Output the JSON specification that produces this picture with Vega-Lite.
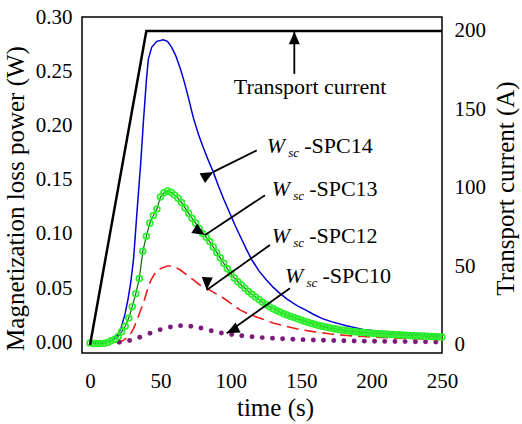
{
  "$schema": "https://vega.github.io/schema/vega-lite/v6.json",
  "width": 360,
  "height": 336,
  "autosize": {"type": "none"},
  "padding": {"left": 82, "top": 17, "right": 80, "bottom": 71},
  "config": {
    "font": "Liberation Serif",
    "view": {"stroke": "black", "strokeWidth": 1.5},
    "axis": {
      "labelFont": "Liberation Serif",
      "titleFont": "Liberation Serif",
      "labelColor": "black",
      "titleColor": "black",
      "labelFontSize": 21,
      "titleFontSize": 25,
      "titleFontWeight": "normal",
      "domain": false,
      "grid": false,
      "labelOverlap": false,
      "labelFlush": false,
      "labelBound": false
    }
  },
  "datasets": {
    "blue": [
      {"t": 0, "w": 0.0005}, {"t": 5, "w": 0.0003}, {"t": 10, "w": 0.0005}, {"t": 13, "w": 0.001},
      {"t": 16, "w": 0.0025}, {"t": 19, "w": 0.006}, {"t": 22, "w": 0.013}, {"t": 25, "w": 0.027},
      {"t": 27, "w": 0.04}, {"t": 29, "w": 0.056}, {"t": 31, "w": 0.078}, {"t": 33, "w": 0.114},
      {"t": 34.5, "w": 0.14}, {"t": 36, "w": 0.165}, {"t": 38, "w": 0.205}, {"t": 40, "w": 0.241},
      {"t": 41.4, "w": 0.261}, {"t": 43.8, "w": 0.272}, {"t": 47.4, "w": 0.2776}, {"t": 52, "w": 0.279},
      {"t": 55, "w": 0.2775}, {"t": 58, "w": 0.272}, {"t": 61, "w": 0.264}, {"t": 64, "w": 0.253},
      {"t": 67, "w": 0.24}, {"t": 70, "w": 0.225}, {"t": 73.4, "w": 0.207}, {"t": 77, "w": 0.192},
      {"t": 80, "w": 0.181}, {"t": 84, "w": 0.168}, {"t": 87.6, "w": 0.157}, {"t": 91, "w": 0.145},
      {"t": 95, "w": 0.132}, {"t": 99, "w": 0.12}, {"t": 103, "w": 0.108}, {"t": 107, "w": 0.097},
      {"t": 111, "w": 0.086}, {"t": 115, "w": 0.076}, {"t": 120, "w": 0.066}, {"t": 125, "w": 0.058},
      {"t": 130, "w": 0.051}, {"t": 135, "w": 0.045}, {"t": 140, "w": 0.04}, {"t": 147, "w": 0.034},
      {"t": 153, "w": 0.03}, {"t": 158.6, "w": 0.026}, {"t": 165, "w": 0.022}, {"t": 172, "w": 0.019},
      {"t": 182, "w": 0.0155}, {"t": 194, "w": 0.012}, {"t": 205, "w": 0.0103}, {"t": 215, "w": 0.0092},
      {"t": 227, "w": 0.0082}, {"t": 240, "w": 0.0072}, {"t": 250, "w": 0.0065}
    ],
    "green": [
      {"t": 0, "w": -0.0005}, {"t": 2.5, "w": -0.001}, {"t": 5, "w": -0.001}, {"t": 7.5, "w": -0.001},
      {"t": 10, "w": -0.0008}, {"t": 12.5, "w": 0.0}, {"t": 15, "w": 0.0015}, {"t": 17.5, "w": 0.003},
      {"t": 20, "w": 0.0055}, {"t": 22.5, "w": 0.01}, {"t": 25, "w": 0.015}, {"t": 27.5, "w": 0.0225},
      {"t": 30, "w": 0.033}, {"t": 32.5, "w": 0.045}, {"t": 35, "w": 0.059}, {"t": 37.5, "w": 0.084},
      {"t": 40, "w": 0.098}, {"t": 42.5, "w": 0.11}, {"t": 45, "w": 0.117}, {"t": 47.5, "w": 0.123},
      {"t": 50, "w": 0.134}, {"t": 52.5, "w": 0.138}, {"t": 55, "w": 0.1397}, {"t": 57.5, "w": 0.1385},
      {"t": 60, "w": 0.136}, {"t": 62.5, "w": 0.133}, {"t": 65, "w": 0.129}, {"t": 67.5, "w": 0.124},
      {"t": 70, "w": 0.119}, {"t": 72.5, "w": 0.1145}, {"t": 75, "w": 0.11}, {"t": 77.5, "w": 0.105},
      {"t": 80, "w": 0.1005}, {"t": 82.5, "w": 0.097}, {"t": 85, "w": 0.093}, {"t": 87.5, "w": 0.088},
      {"t": 90, "w": 0.083}, {"t": 92.5, "w": 0.078}, {"t": 95, "w": 0.073}, {"t": 97.5, "w": 0.068},
      {"t": 100, "w": 0.0635}, {"t": 102.5, "w": 0.0595}, {"t": 105, "w": 0.056}, {"t": 107.5, "w": 0.053},
      {"t": 110, "w": 0.05}, {"t": 112.5, "w": 0.047}, {"t": 115, "w": 0.0445}, {"t": 117.5, "w": 0.042},
      {"t": 120, "w": 0.0395}, {"t": 122.5, "w": 0.037}, {"t": 125, "w": 0.035}, {"t": 127.5, "w": 0.033},
      {"t": 130, "w": 0.031}, {"t": 132.5, "w": 0.0295}, {"t": 135, "w": 0.028}, {"t": 137.5, "w": 0.0265},
      {"t": 140, "w": 0.0253}, {"t": 142.5, "w": 0.024}, {"t": 145, "w": 0.023}, {"t": 147.5, "w": 0.0218},
      {"t": 150, "w": 0.0207}, {"t": 152.5, "w": 0.0196}, {"t": 155, "w": 0.0185}, {"t": 157.5, "w": 0.0174},
      {"t": 160, "w": 0.0165}, {"t": 162.5, "w": 0.0157}, {"t": 165, "w": 0.0149}, {"t": 167.5, "w": 0.0142},
      {"t": 170, "w": 0.0135}, {"t": 172.5, "w": 0.0129}, {"t": 175, "w": 0.0123}, {"t": 177.5, "w": 0.0118},
      {"t": 180, "w": 0.0113}, {"t": 182.5, "w": 0.0108}, {"t": 185, "w": 0.0104}, {"t": 187.5, "w": 0.01},
      {"t": 190, "w": 0.0097}, {"t": 192.5, "w": 0.0094}, {"t": 195, "w": 0.0091}, {"t": 197.5, "w": 0.0088},
      {"t": 200, "w": 0.0085}, {"t": 202.5, "w": 0.0083}, {"t": 205, "w": 0.0081}, {"t": 207.5, "w": 0.0079},
      {"t": 210, "w": 0.0077}, {"t": 212.5, "w": 0.0075}, {"t": 215, "w": 0.0073}, {"t": 217.5, "w": 0.0071},
      {"t": 220, "w": 0.007}, {"t": 222.5, "w": 0.0068}, {"t": 225, "w": 0.0067}, {"t": 227.5, "w": 0.0065},
      {"t": 230, "w": 0.0063}, {"t": 232.5, "w": 0.0062}, {"t": 235, "w": 0.006}, {"t": 237.5, "w": 0.0059},
      {"t": 240, "w": 0.0057}, {"t": 242.5, "w": 0.0056}, {"t": 245, "w": 0.0054}, {"t": 247.5, "w": 0.0052},
      {"t": 250, "w": 0.005}
    ],
    "red": [
      {"t": 18, "w": 0.0}, {"t": 20, "w": 0.0003}, {"t": 23, "w": 0.0015}, {"t": 26, "w": 0.004},
      {"t": 28.4, "w": 0.007}, {"t": 31, "w": 0.013}, {"t": 34.3, "w": 0.024}, {"t": 36, "w": 0.03},
      {"t": 37.9, "w": 0.036}, {"t": 39.5, "w": 0.043}, {"t": 41.4, "w": 0.0515}, {"t": 43.5, "w": 0.058},
      {"t": 46.2, "w": 0.064}, {"t": 49, "w": 0.0675}, {"t": 52, "w": 0.069}, {"t": 55, "w": 0.0705},
      {"t": 58, "w": 0.0705}, {"t": 61, "w": 0.069}, {"t": 63.9, "w": 0.067}, {"t": 68, "w": 0.063},
      {"t": 73.4, "w": 0.0576}, {"t": 78, "w": 0.053}, {"t": 82.8, "w": 0.05}, {"t": 88, "w": 0.046},
      {"t": 94.7, "w": 0.041}, {"t": 100, "w": 0.036}, {"t": 106.5, "w": 0.03}, {"t": 113, "w": 0.026},
      {"t": 120.7, "w": 0.0224}, {"t": 130, "w": 0.018}, {"t": 139.7, "w": 0.0147}, {"t": 149, "w": 0.012},
      {"t": 158.6, "w": 0.01}, {"t": 170, "w": 0.008}, {"t": 182.3, "w": 0.0064}, {"t": 194, "w": 0.0055},
      {"t": 206, "w": 0.0046}, {"t": 218, "w": 0.004}, {"t": 229.6, "w": 0.0034}, {"t": 240, "w": 0.0031},
      {"t": 250, "w": 0.0028}
    ],
    "purple": [
      {"t": 20.8, "w": 0.0002}, {"t": 28.1, "w": 0.0018}, {"t": 35.3, "w": 0.0048}, {"t": 42.6, "w": 0.0085},
      {"t": 49.8, "w": 0.0118}, {"t": 57.1, "w": 0.0143}, {"t": 64.3, "w": 0.0155}, {"t": 71.6, "w": 0.015},
      {"t": 78.8, "w": 0.0134}, {"t": 86.1, "w": 0.0108}, {"t": 93.3, "w": 0.0088}, {"t": 100.6, "w": 0.0073},
      {"t": 107.8, "w": 0.0062}, {"t": 115.1, "w": 0.0053}, {"t": 122.3, "w": 0.0045}, {"t": 129.6, "w": 0.0039},
      {"t": 136.8, "w": 0.0034}, {"t": 144.1, "w": 0.003}, {"t": 151.3, "w": 0.0026}, {"t": 158.6, "w": 0.0023},
      {"t": 165.8, "w": 0.0021}, {"t": 173.1, "w": 0.0018}, {"t": 180.3, "w": 0.0016}, {"t": 187.6, "w": 0.0014},
      {"t": 194.8, "w": 0.0012}, {"t": 202.1, "w": 0.0011}, {"t": 209.3, "w": 0.001}, {"t": 216.6, "w": 0.0009},
      {"t": 223.8, "w": 0.0008}, {"t": 231.1, "w": 0.0007}, {"t": 238.3, "w": 0.0006}, {"t": 245.6, "w": 0.0005}
    ],
    "current": [
      {"t": 0, "amp": 0}, {"t": 40, "amp": 200}, {"t": 250, "amp": 200}
    ],
    "labels": [
      {"name": "-SPC14", "t": 125.5, "w": 0.1746},
      {"name": "-SPC13", "t": 129, "w": 0.1348},
      {"name": "-SPC12", "t": 129, "w": 0.0919},
      {"name": "-SPC10", "t": 138.5, "w": 0.0546}
    ],
    "note": [
      {"name": "Transport current", "t": 156.3, "w": 0.2286}
    ],
    "arrows": [
      {"id": "current", "t": 145.1, "w": 0.2865, "t2": 145.1, "w2": 0.2476},
      {"id": "SPC14", "t": 87.6, "w": 0.1572, "t2": 118.4, "w2": 0.1771},
      {"id": "SPC13", "t": 81.7, "w": 0.099, "t2": 124.3, "w2": 0.1358},
      {"id": "SPC12", "t": 82.9, "w": 0.0484, "t2": 127.8, "w2": 0.0898},
      {"id": "SPC10", "t": 97.1, "w": 0.0086, "t2": 142, "w2": 0.05}
    ],
    "wticks": [
      {"w": 0}, {"w": 0.01}, {"w": 0.02}, {"w": 0.03}, {"w": 0.04}, {"w": 0.05}, {"w": 0.06}, {"w": 0.07},
      {"w": 0.08}, {"w": 0.09}, {"w": 0.1}, {"w": 0.11}, {"w": 0.12}, {"w": 0.13}, {"w": 0.14}, {"w": 0.15},
      {"w": 0.16}, {"w": 0.17}, {"w": 0.18}, {"w": 0.19}, {"w": 0.2}, {"w": 0.21}, {"w": 0.22}, {"w": 0.23},
      {"w": 0.24}, {"w": 0.25}, {"w": 0.26}, {"w": 0.27}, {"w": 0.28}, {"w": 0.29}
    ],
    "tticks": [
      {"t": 0}, {"t": 10}, {"t": 20}, {"t": 30}, {"t": 40}, {"t": 50}, {"t": 60}, {"t": 70}, {"t": 80},
      {"t": 90}, {"t": 100}, {"t": 110}, {"t": 120}, {"t": 130}, {"t": 140}, {"t": 150}, {"t": 160},
      {"t": 170}, {"t": 180}, {"t": 190}, {"t": 200}, {"t": 210}, {"t": 220}, {"t": 230}, {"t": 240}
    ],
    "aticks": [
      {"amp": 0}, {"amp": 10}, {"amp": 20}, {"amp": 30}, {"amp": 40}, {"amp": 50}, {"amp": 60},
      {"amp": 70}, {"amp": 80}, {"amp": 90}, {"amp": 100}, {"amp": 110}, {"amp": 120}, {"amp": 130},
      {"amp": 140}, {"amp": 150}, {"amp": 160}, {"amp": 170}, {"amp": 180}, {"amp": 190}, {"amp": 200}
    ]
  },
  "encoding": {
    "x": {
      "field": "t", "type": "quantitative",
      "scale": {"domain": [-5.7, 250], "nice": false, "zero": false},
      "axis": {
        "orient": "bottom",
        "values": [0, 10, 20, 30, 40, 50, 60, 70, 80, 90, 100, 110, 120, 130, 140, 150, 160, 170, 180, 190, 200, 210, 220, 230, 240, 250],
        "labelExpr": "datum.value % 50 === 0 ? datum.label : ''",
        "labelOverlap": false,
        "ticks": false,
        "labelPadding": 17,
        "title": "time (s)",
        "titleX": 193,
        "titleY": 62,
        "titleAlign": "center",
        "titleBaseline": "alphabetic"
      }
    }
  },
  "resolve": {"scale": {"y": "independent"}},
  "layer": [
    {
      "encoding": {
        "y": {
          "field": "w", "type": "quantitative",
          "scale": {"domain": [-0.0097, 0.3], "nice": false, "zero": false},
          "axis": {
            "orient": "left",
            "values": [0, 0.01, 0.02, 0.03, 0.04, 0.05, 0.06, 0.07, 0.08, 0.09, 0.1, 0.11, 0.12, 0.13, 0.14, 0.15, 0.16, 0.17, 0.18, 0.19, 0.2, 0.21, 0.22, 0.23, 0.24, 0.25, 0.26, 0.27, 0.28, 0.29, 0.3],
            "labelExpr": "round(datum.value * 100) % 5 === 0 ? format(datum.value, '.2f') : ''",
            "labelOverlap": false,
            "ticks": false,
            "labelPadding": 10,
            "title": "Magnetization loss power (W)",
            "titleAngle": 270,
            "titleX": -58.7,
            "titleY": 181,
            "titleAlign": "center",
            "titleBaseline": "alphabetic"
          }
        }
      },
      "layer": [
        {
          "data": {"name": "blue"},
          "mark": {"type": "line", "color": "#0000d8", "strokeWidth": 1.5}
        },
        {
          "data": {"name": "red"},
          "mark": {"type": "line", "color": "#ee1c1c", "strokeWidth": 1.6, "strokeDash": [12, 6]}
        },
        {
          "data": {"name": "purple"},
          "mark": {"type": "point", "shape": "circle", "filled": true, "color": "#7b1a7b", "size": 24, "opacity": 1}
        },
        {
          "data": {"name": "green"},
          "mark": {"type": "line", "color": "#0a6a0a", "strokeWidth": 1.2}
        },
        {
          "data": {"name": "green"},
          "mark": {"type": "point", "shape": "circle", "filled": false, "color": "#2bef2b", "size": 34, "strokeWidth": 1.7, "opacity": 1}
        },
        {
          "data": {"name": "arrows"},
          "mark": {"type": "rule", "color": "black", "strokeWidth": 1.8},
          "encoding": {
            "x2": {"field": "t2"},
            "y2": {"field": "w2"}
          }
        },
        {
          "data": {"name": "arrows"},
          "mark": {"type": "point", "shape": "M0,0L0.5,1.15L-0.5,1.15Z", "filled": true, "color": "black", "size": 484, "opacity": 1, "strokeWidth": 0},
          "encoding": {
            "angle": {
              "field": "id", "type": "nominal",
              "scale": {"domain": ["current", "SPC14", "SPC13", "SPC12", "SPC10"], "range": [0, 243.4, 236.3, 234.6, 234.6]},
              "legend": null
            }
          }
        },
        {
          "data": {"name": "labels"},
          "mark": {"type": "text", "text": "W", "font": "Liberation Serif", "fontStyle": "italic", "fontSize": 22, "align": "left", "baseline": "alphabetic", "color": "black"}
        },
        {
          "data": {"name": "labels"},
          "mark": {"type": "text", "text": "sc", "font": "Liberation Serif", "fontStyle": "italic", "fontSize": 13, "align": "left", "baseline": "alphabetic", "dx": 21.5, "dy": 4, "color": "black"}
        },
        {
          "data": {"name": "labels"},
          "mark": {"type": "text", "font": "Liberation Serif", "fontSize": 22, "align": "left", "baseline": "alphabetic", "dx": 37.5, "color": "black"},
          "encoding": {
            "text": {"field": "name"}
          }
        },
        {
          "data": {"name": "note"},
          "mark": {"type": "text", "font": "Liberation Serif", "fontSize": 22, "align": "center", "baseline": "alphabetic", "color": "black"},
          "encoding": {
            "text": {"field": "name"}
          }
        },
        {
          "data": {"name": "wticks"},
          "mark": {"type": "rule", "color": "black", "strokeWidth": 1.3},
          "encoding": {
            "x": {
              "datum": -5.7, "type": "quantitative",
              "axis": {
                "orient": "bottom",
                "values": [0, 10, 20, 30, 40, 50, 60, 70, 80, 90, 100, 110, 120, 130, 140, 150, 160, 170, 180, 190, 200, 210, 220, 230, 240, 250],
                "labelExpr": "datum.value % 50 === 0 ? datum.label : ''",
                "labelOverlap": false,
                "ticks": false,
                "labelPadding": 17,
                "title": "time (s)",
                "titleX": 193,
                "titleY": 62,
                "titleAlign": "center",
                "titleBaseline": "alphabetic"
              }
            },
            "x2": {"datum": -0.73}
          }
        },
        {
          "data": {"name": "tticks"},
          "mark": {"type": "rule", "color": "black", "strokeWidth": 1.3},
          "encoding": {
            "y": {
              "datum": -0.0097, "type": "quantitative",
              "axis": {
                "orient": "left",
                "values": [0, 0.01, 0.02, 0.03, 0.04, 0.05, 0.06, 0.07, 0.08, 0.09, 0.1, 0.11, 0.12, 0.13, 0.14, 0.15, 0.16, 0.17, 0.18, 0.19, 0.2, 0.21, 0.22, 0.23, 0.24, 0.25, 0.26, 0.27, 0.28, 0.29, 0.3],
                "labelExpr": "round(datum.value * 100) % 5 === 0 ? format(datum.value, '.2f') : ''",
                "labelOverlap": false,
                "ticks": false,
                "labelPadding": 10,
                "title": "Magnetization loss power (W)",
                "titleAngle": 270,
                "titleX": -58.7,
                "titleY": 181,
                "titleAlign": "center",
                "titleBaseline": "alphabetic"
              }
            },
            "y2": {"datum": -0.0032}
          }
        }
      ]
    },
    {
      "encoding": {
        "y": {
          "field": "amp", "type": "quantitative",
          "scale": {"domain": [-5.1, 208.9], "nice": false, "zero": false},
          "axis": {
            "orient": "right",
            "values": [0, 10, 20, 30, 40, 50, 60, 70, 80, 90, 100, 110, 120, 130, 140, 150, 160, 170, 180, 190, 200],
            "labelExpr": "datum.value % 50 === 0 ? datum.label : ''",
            "labelOverlap": false,
            "ticks": false,
            "labelPadding": 12,
            "title": "Transport current (A)",
            "titleAngle": 270,
            "titleX": 71.3,
            "titleY": 171,
            "titleAlign": "center",
            "titleBaseline": "alphabetic"
          }
        }
      },
      "layer": [
        {
          "data": {"name": "current"},
          "mark": {"type": "line", "color": "black", "strokeWidth": 2.5}
        },
        {
          "data": {"name": "aticks"},
          "mark": {"type": "rule", "color": "black", "strokeWidth": 1.3},
          "encoding": {
            "x": {
              "datum": 250, "type": "quantitative",
              "axis": {
                "orient": "bottom",
                "values": [0, 10, 20, 30, 40, 50, 60, 70, 80, 90, 100, 110, 120, 130, 140, 150, 160, 170, 180, 190, 200, 210, 220, 230, 240, 250],
                "labelExpr": "datum.value % 50 === 0 ? datum.label : ''",
                "labelOverlap": false,
                "ticks": false,
                "labelPadding": 17,
                "title": "time (s)",
                "titleX": 193,
                "titleY": 62,
                "titleAlign": "center",
                "titleBaseline": "alphabetic"
              }
            },
            "x2": {"datum": 245.03}
          }
        }
      ]
    }
  ]
}
